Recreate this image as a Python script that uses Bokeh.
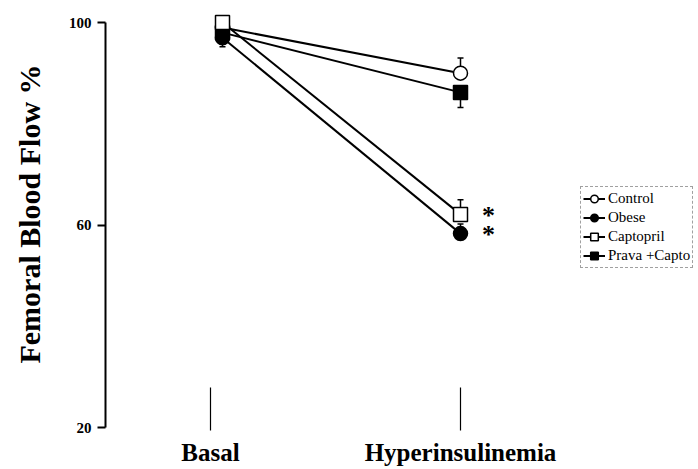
from bokeh.plotting import figure
from bokeh.models import Range1d, FixedTicker, LinearAxis, Legend, LegendItem
from bokeh.embed import file_html
from bokeh.resources import INLINE

# ---- data ----
categories = ["Basal", "Hyperinsulinemia"]
cat_ticks = [0, 1]
series = ["Control", "Obese", "Captopril", "Prava +Capto"]
basal = [99.0, 97.0, 100.0, 98.0]
hyper = [90.0, 58.3, 62.1, 86.2]
sem_basal = [1.0, 1.8, 0.8, 1.0]
sem_hyper = [3.0, 1.9, 2.9, 3.0]
err_dir_basal = [-1, -1, -1, -1]
err_dir_hyper = [1, 1, 1, -1]
significant = [False, True, True, False]
y_ticks = [20, 60, 100]

# styles
markers = ["circle", "circle", "square", "square"]
fills = ["white", "black", "white", "black"]
x_pos = [0.048, 1.0]   # plotting positions of the two conditions
draw_order = [0, 1, 3, 2]

SERIF = "Liberation Serif"

p = figure(width=698, height=469, output_backend="svg", toolbar_location=None,
           x_range=Range1d(-0.42, 1.952), y_range=Range1d(20, 104.35),
           x_axis_type=None, y_axis_type=None,
           min_border_left=105, min_border_right=0, min_border_top=0, min_border_bottom=42)
p.outline_line_color = None
p.xgrid.visible = False
p.ygrid.visible = False
p.background_fill_color = "white"
p.border_fill_color = "white"

# left axis
yax = LinearAxis(ticker=FixedTicker(ticks=y_ticks), bounds=(20, 100))
yax.axis_label = "Femoral Blood Flow %"
yax.axis_label_text_font = SERIF
yax.axis_label_text_font_style = "bold"
yax.axis_label_text_font_size = "30px"
yax.axis_label_text_color = "black"
yax.axis_label_standoff = 20
yax.major_label_text_font = SERIF
yax.major_label_text_font_style = "bold"
yax.major_label_text_font_size = "15px"
yax.major_label_text_color = "black"
yax.major_label_standoff = 6
yax.major_tick_in = 0
yax.major_tick_out = 8
yax.major_tick_line_width = 2
yax.major_tick_line_color = "black"
yax.minor_tick_line_color = None
yax.axis_line_width = 2
yax.axis_line_color = "black"
p.add_layout(yax, "left")

# bottom axis (category ticks only)
xax = LinearAxis(ticker=FixedTicker(ticks=cat_ticks))
xax.major_label_overrides = {t: c for t, c in zip(cat_ticks, categories)}
xax.major_label_text_font = SERIF
xax.major_label_text_font_style = "bold"
xax.major_label_text_font_size = "25px"
xax.major_label_text_color = "black"
xax.major_label_standoff = 8
xax.major_tick_in = 40
xax.major_tick_out = 3
xax.major_tick_line_width = 1.2
xax.major_tick_line_color = "black"
xax.minor_tick_line_color = None
xax.axis_line_color = None
p.add_layout(xax, "below")

# lines
line_r = []
for i in range(len(series)):
    r = p.line(x=x_pos, y=[basal[i], hyper[i]], line_color="black", line_width=2)
    line_r.append(r)

# error bars (one-sided)
ex, ey0, ey1 = [], [], []
for i in range(len(series)):
    ex += [x_pos[0], x_pos[1]]
    ey0 += [basal[i], hyper[i]]
    ey1 += [basal[i] + err_dir_basal[i] * sem_basal[i], hyper[i] + err_dir_hyper[i] * sem_hyper[i]]
p.segment(x0=ex, y0=ey0, x1=ex, y1=ey1, line_color="black", line_width=1.5)
p.scatter(x=ex, y=ey1, marker="dash", size=6, line_color="black", line_width=1.5)

# markers
sc_r = [None] * len(series)
for i in draw_order:
    r = p.scatter(x=x_pos, y=[basal[i], hyper[i]], marker=markers[i], size=14,
                  fill_color=fills[i], line_color="black", line_width=1.5)
    sc_r[i] = r

# significance asterisks
sx = [x_pos[1] for i in range(len(series)) if significant[i]]
sy = [hyper[i] for i in range(len(series)) if significant[i]]
p.text(x=sx, y=sy, text=["*"] * len(sx), x_offset=28, y_offset=1,
       text_font={"value": SERIF}, text_font_style="bold", text_font_size="26px",
       text_align="center", text_baseline="middle", text_color="black")

legend = Legend(items=[LegendItem(label=series[i], renderers=[line_r[i], sc_r[i]]) for i in range(len(series))],
                location=(475, 159))
legend.label_text_font = SERIF
legend.label_text_font_size = "15px"
legend.label_text_color = "black"
legend.glyph_width = 22
legend.glyph_height = 19
legend.label_height = 19
legend.spacing = 0
legend.padding = 2
legend.margin = 0
legend.label_standoff = 3
legend.border_line_color = "#444444"
legend.border_line_dash = "3 2"
legend.border_line_width = 1
legend.background_fill_alpha = 1
p.add_layout(legend, "center")

open("out.html", "w").write(file_html(p, INLINE))
